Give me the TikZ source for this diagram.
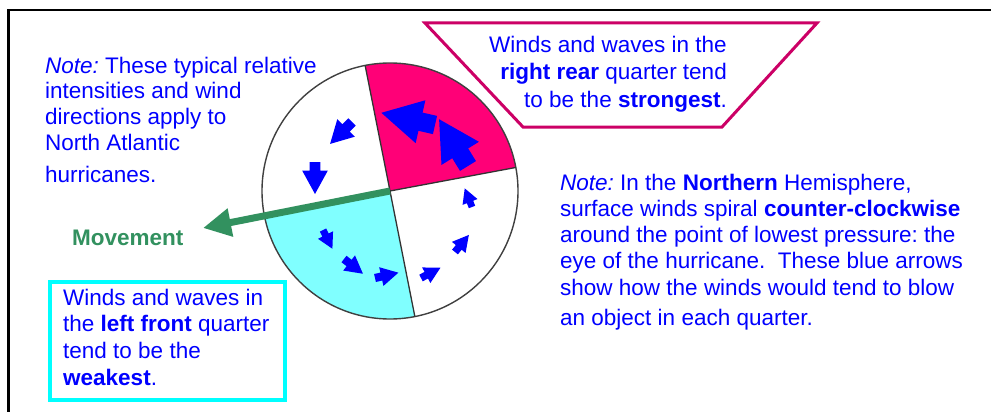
\documentclass[tikz,border=0pt]{standalone}
\usepackage{fontspec}
\setmainfont{Liberation Sans}
\usetikzlibrary{arrows.meta,calc}
\definecolor{noteblue}{RGB}{0,0,255}
\definecolor{pinkq}{RGB}{255,0,119}
\definecolor{cyanq}{RGB}{128,255,255}
\definecolor{trapcol}{RGB}{204,0,102}
\definecolor{boxcyan}{RGB}{0,255,255}
\definecolor{movegreen}{RGB}{50,145,95}
\newcommand\windarrow[3]{\fill[noteblue,shift={(#1)},rotate=#2,scale=#3] (0,0.17) -- (0.27,0.17) -- (0.27,0.40) -- (1,0) -- (0.27,-0.40) -- (0.27,-0.17) -- (0,-0.17) -- cycle;}
\tikzset{
  notetext/.style={text=noteblue, inner sep=0pt, align=left},
  divline/.style={draw=black!80, line width=1.3pt},
  circline/.style={draw=black!75, line width=1.4pt},
}
\begin{document}
\frenchspacing
\begin{tikzpicture}[x=1pt,y=1pt]
\useasboundingbox (0,-412) rectangle (991,0);
\fill[white] (0,-412) rectangle (991,0);
% frame
\draw[line width=2.2pt, line cap=rect] (8.5,-412) -- (8.5,-10) -- (991,-10);
% circle
\coordinate (eye) at (390,-191);
\fill[pinkq] (eye) -- +(10.6:128) arc[start angle=10.6, end angle=101.2, radius=128] -- cycle;
\fill[cyanq] (eye) -- +(190.6:128) arc[start angle=190.6, end angle=281.2, radius=128] -- cycle;
\draw[circline] (eye) circle[radius=128];
\draw[divline] (eye) -- +(10.6:128) (eye) -- +(101.2:128) (eye) -- +(190.6:128) (eye) -- +(281.2:128);
% movement arrow
\coordinate (movetip) at (203,-228);
\draw[movegreen, line width=7pt, -{Triangle[length=28pt,width=27pt]}] (eye) -- (movetip);
\node[font=\fontsize{22.5}{26}\selectfont\bfseries, text=movegreen, anchor=base west, inner sep=0pt] (movement) at (72,-245) {Movement};
% wind arrows
\windarrow{435,-125}{167.2}{55}
\windarrow{468,-166}{121.7}{55}
\windarrow{352,-122}{225}{31}
\windarrow{315,-162}{270}{32}
\windarrow{323,-230}{-63.4}{21}
\windarrow{344,-259}{-37.9}{24}
\windarrow{375,-278}{12.8}{24}
\windarrow{421,-278}{27.8}{22}
\windarrow{455,-252}{50.9}{22}
\windarrow{472,-207}{111.3}{20}
% right rear box
\draw[trapcol, line width=3pt, line join=miter] (425,-23) -- (817,-23) -- (722,-127) -- (523,-127) -- cycle;
\node[notetext, font=\fontsize{22.5}{27.5}\selectfont\frenchspacing, align=right, anchor=north east] (rightrear) at (727,-35.5)
  {Winds and waves in the\\ \textbf{right rear} quarter tend\\ to be the \textbf{strongest}.};
% left front box
\draw[boxcyan, line width=4pt] (50,-282) rectangle (285,-400);
\node[notetext, font=\fontsize{22.5}{26.7}\selectfont\frenchspacing, anchor=north west] (leftfront) at (63,-288.6)
  {Winds and waves in\\ the \textbf{left front} quarter\\ tend to be the\\ \textbf{weakest}.};
% notes
\node[notetext, font=\fontsize{22.5}{25.7}\selectfont\frenchspacing, anchor=north west] (leftnote) at (45,-56.6)
  {{\itshape Note:} These typical relative\\ intensities and wind\\ directions apply to\\ North Atlantic\\[7pt] hurricanes.};
\node[notetext, font=\fontsize{22.5}{26.25}\selectfont\frenchspacing, anchor=north west] (rightnote) at (560,-173.6)
  {{\itshape Note:} In the \textbf{Northern} Hemisphere,\\ surface winds spiral \textbf{counter-clockwise}\\ around the point of lowest pressure: the\\ eye of the hurricane.\ \ These blue arrows\\ show how the winds would tend to blow\\[4pt] an object in each quarter.};
\end{tikzpicture}
\end{document}
